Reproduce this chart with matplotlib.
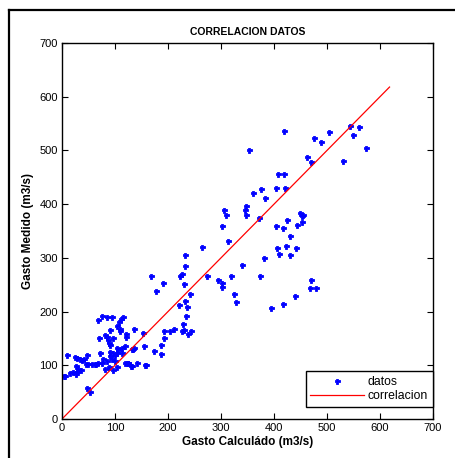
import matplotlib
matplotlib.use("Agg")
import matplotlib.pyplot as plt
from matplotlib.lines import Line2D

plt.rcParams['font.family'] = ['Liberation Sans', 'DejaVu Sans']

# Gasto calculado (x) and gasto medido (y) pairs
calc = [
    232, 233, 226, 223, 168, 190, 231, 177, 241, 233, 221, 236, 234, 229,
    193, 203, 211, 226, 231, 237, 243, 192, 153, 155, 174, 187, 187, 136,
    134, 114, 109, 120, 119, 124, 132, 158, 96,
    76, 85, 94, 116, 111, 108, 67, 104, 91, 109, 69, 81, 84, 87, 89, 91,
    9, 25, 29, 34, 37, 42, 47, 72, 91, 97, 100, 104, 103, 106, 119,
    45, 50, 56, 62, 65, 35, 6, 15, 21, 26, 29, 122, 125, 48, 52, 113,
    104, 97, 81, 67, 142, 157, 131, 133, 136, 120, 4, 30, 27, 78, 85, 90,
    95, 100, 88, 75,
    352, 463, 470, 531, 408, 419, 360, 375, 383, 403, 421, 305, 345, 348,
    348, 372, 302, 404, 417, 425, 443, 452, 455, 452, 313, 264, 431, 405,
    423, 441, 410, 430, 382, 340, 373, 318, 273, 294, 302, 302, 325, 329,
    394, 417, 440, 467, 470, 480, 419, 476, 488, 503, 543, 561, 550, 573,
    450, 310,
]
medido = [
    305, 285, 270, 266, 267, 253, 252, 238, 233, 220, 212, 209, 192, 177,
    164, 164, 167, 163, 165, 158, 164, 150, 160, 135, 126, 137, 121, 168,
    131, 133, 167, 153, 104, 104, 98, 101, 150,
    192, 190, 189, 190, 187, 181, 184, 173, 166, 163, 150, 156, 153, 147, 141, 138,
    120, 116, 114, 111, 109, 111, 119, 122, 125, 122, 119, 123, 132, 128, 135,
    102, 102, 102, 102, 102, 91, 80, 85, 87, 84, 88, 104, 104, 58, 50, 122,
    97, 92, 94, 104, 105, 101, 99, 130, 133, 158, 80, 93, 99, 112, 108, 118,
    112, 108, 96, 105,
    501, 487, 479, 481, 456, 457, 421, 428, 412, 430, 430, 389, 389, 397,
    379, 374, 359, 359, 355, 370, 362, 377, 380, 367, 331, 320, 340, 318,
    323, 318, 308, 306, 299, 286, 267, 267, 266, 258, 253, 246, 233, 217,
    206, 214, 229, 243, 259, 244, 536, 524, 515, 534, 546, 544, 529, 504,
    383, 380,
]

line_x = [0, 618]
line_y = [0, 618]

x_ticks = [0, 100, 200, 300, 400, 500, 600, 700]
y_ticks = [0, 100, 200, 300, 400, 500, 600, 700]

W, H = 456, 458
fig = plt.figure(figsize=(W / 100, H / 100), dpi=100)
ax = fig.add_axes([62 / W, 39 / H, (433 - 62) / W, (419 - 43) / H])

ax.plot(calc, medido, linestyle='none', marker='P', markersize=3.6,
        color='#0000ff', markeredgecolor='#0000ff', markeredgewidth=0.6,
        label='datos')
ax.plot(line_x, line_y, color='#ff0000', linewidth=0.9, label='correlacion')

ax.set_xlim(0, 700)
ax.set_ylim(0, 700)
ax.set_xticks(x_ticks)
ax.set_yticks(y_ticks)
ax.tick_params(direction='in', top=True, right=True, length=4, width=0.8,
               labelsize=8, pad=3, colors='black')
for s in ax.spines.values():
    s.set_linewidth(1.0)

ax.set_xlabel('Gasto Calculádo (m3/s)', fontsize=8.5, fontweight='bold', labelpad=2)
ax.set_ylabel('Gasto Medido (m3/s)', fontsize=8.5, fontweight='bold', labelpad=4)
ax.set_title('CORRELACION DATOS', fontsize=7.5, fontweight='bold', pad=6)

leg = ax.legend(loc='lower right', bbox_to_anchor=(1.0, 0.032), fontsize=8.8,
                frameon=True, fancybox=False, edgecolor='black', framealpha=1,
                borderpad=0.4, handlelength=4.4, handletextpad=0.3,
                labelspacing=0.15, borderaxespad=0)
leg.get_frame().set_linewidth(1.0)

# outer frame (left and top edges visible)
fig.add_artist(Line2D([9.5 / W, 9.5 / W], [0, 1 - 9.5 / H], color='black',
                      linewidth=1.6, transform=fig.transFigure))
fig.add_artist(Line2D([9.5 / W, 1], [1 - 9.5 / H, 1 - 9.5 / H], color='black',
                      linewidth=1.6, transform=fig.transFigure))

fig.savefig('out.png', dpi=100)
